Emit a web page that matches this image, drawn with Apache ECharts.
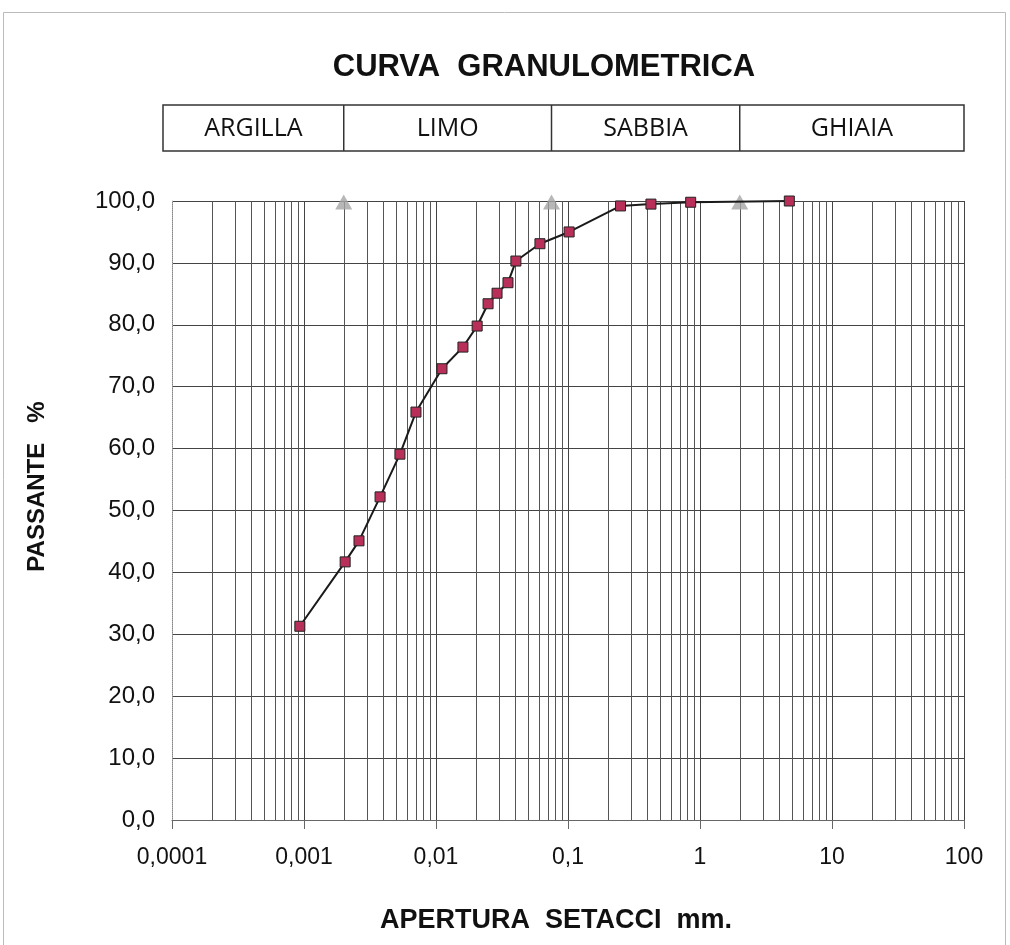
<!DOCTYPE html>
<html>
<head>
<meta charset="utf-8">
<script src="https://cdn.jsdelivr.net/npm/echarts@6/dist/echarts.min.js"></script>
<style>
html,body{margin:0;padding:0;background:#fff;}
#c{width:1010px;height:945px;}
</style>
</head>
<body>
<div id="c"></div>
<script>
// ---- data ----
const sieveSizes = [0.00093, 0.00205, 0.00261, 0.00377, 0.00533, 0.00705, 0.0111, 0.0160, 0.0205, 0.0248, 0.0290, 0.0351, 0.0403, 0.0613, 0.102, 0.25, 0.425, 0.85, 4.75];
const passing    = [31.3, 41.7, 45.1, 52.2, 59.1, 65.9, 72.9, 76.4, 79.8, 83.4, 85.1, 86.8, 90.3, 93.1, 95.0, 99.2, 99.5, 99.8, 100.0];
const boundarySizes = [0.002, 0.075, 2];
const boundaryPassing = [100, 100, 100];
const fractionNames = ['ARGILLA', 'LIMO', 'SABBIA', 'GHIAIA'];
const xMajorTicks = [0.0001, 0.001, 0.01, 0.1, 1, 10, 100];
const yTicks = [0, 10, 20, 30, 40, 50, 60, 70, 80, 90, 100];
const minorFactors = [2, 3, 4, 5, 6, 7, 8, 9];

const minorValues = [];
for (let i = 0; i < xMajorTicks.length - 1; i++) {
  minorFactors.forEach(f => minorValues.push(+(xMajorTicks[i] * f).toPrecision(6)));
}

const chart = echarts.init(document.getElementById('c'), null, { renderer: 'canvas' });
const fmt = v => String(v).replace('.', ',');

const option = {
  backgroundColor: '#fff',
  animation: false,
  title: {
    text: 'CURVA  GRANULOMETRICA',
    left: 539, top: 47, textAlign: 'center',
    textStyle: { fontFamily: 'Liberation Sans', fontWeight: 'bold', fontSize: 31, color: '#111' }
  },
  grid: { left: 172, right: 46, top: 201, bottom: 125 },
  xAxis: {
    type: 'log', logBase: 10, min: xMajorTicks[0], max: xMajorTicks[xMajorTicks.length - 1],
    name: 'APERTURA  SETACCI  mm.', nameLocation: 'middle', nameGap: 87,
    nameTextStyle: { fontFamily: 'Liberation Sans', fontWeight: 'bold', fontSize: 27, color: '#111', padding: [0, 24, 0, 0] },
    axisLine: { show: true, lineStyle: { color: '#666', width: 1 } },
    axisTick: { show: true, inside: false, length: 9, lineStyle: { color: '#666' } },
    axisLabel: { formatter: fmt, fontFamily: 'Liberation Sans', fontSize: 23, color: '#111', margin: 26 },
    splitLine: { show: true, lineStyle: { color: '#444', width: 1 } }
  },
  yAxis: {
    type: 'value', min: 0, max: 100, interval: 10,
    name: 'PASSANTE   %', nameLocation: 'middle', nameGap: 123, nameRotate: 90,
    nameTextStyle: { fontFamily: 'Liberation Sans', fontWeight: 'bold', fontSize: 24, color: '#111', padding: [0, 0, 0, 48] },
    axisLine: { show: true, lineStyle: { color: '#aaa', width: 1, type: 'dotted' } },
    axisTick: { show: false },
    axisLabel: { formatter: v => v.toFixed(1).replace('.', ','), fontFamily: 'Liberation Sans', fontSize: 24, color: '#111', margin: 17 },
    splitLine: { show: true, lineStyle: { color: '#444', width: 1 } }
  },
  series: [
    {
      type: 'custom',
      silent: true,
      data: minorValues,
      encode: { x: 0 },
      clip: true,
      z: 1,
      renderItem: function (params, api) {
        const v = api.value(0);
        const top = api.coord([v, 100]);
        const bot = api.coord([v, 0]);
        return {
          type: 'line',
          shape: { x1: Math.round(top[0]) + 0.5, y1: top[1], x2: Math.round(bot[0]) + 0.5, y2: bot[1] },
          style: { stroke: '#555', lineWidth: 1 }
        };
      }
    },
    {
      type: 'scatter',
      data: boundarySizes.map((x, i) => [x, boundaryPassing[i]]),
      symbol: 'triangle', symbolSize: [17, 15], symbolOffset: [0, 1],
      itemStyle: { color: '#a5a5a5' },
      clip: false, z: 3
    },
    {
      type: 'line',
      data: sieveSizes.map((x, i) => [x, passing[i]]),
      symbol: 'rect', symbolSize: 10,
      showAllSymbol: true,
      lineStyle: { color: '#1a1a1a', width: 2 },
      itemStyle: { color: '#b8305a', borderColor: '#222', borderWidth: 1 },
      clip: false, z: 5
    }
  ]
};
chart.setOption(option);

// classification header table aligned to boundary sizes
const tableTop = 105, tableH = 46, tableLeft = 163;
const xRight = chart.convertToPixel({ xAxisIndex: 0 }, xMajorTicks[xMajorTicks.length - 1]);
const edges = [tableLeft].concat(boundarySizes.map(v => chart.convertToPixel({ xAxisIndex: 0 }, v)), [xRight]);
const g = [];
g.push({ type: 'rect', shape: { x: 3.5, y: 12.5, width: 1002, height: 940 }, style: { fill: 'none', stroke: '#bbb', lineWidth: 1 }, silent: true });
g.push({ type: 'rect', shape: { x: edges[0], y: tableTop, width: edges[edges.length - 1] - edges[0], height: tableH }, style: { fill: '#fff', stroke: '#333', lineWidth: 1.5 } });
for (let i = 1; i < edges.length - 1; i++) {
  g.push({ type: 'line', shape: { x1: edges[i], y1: tableTop, x2: edges[i], y2: tableTop + tableH }, style: { stroke: '#333', lineWidth: 1.5 } });
}
fractionNames.forEach((n, i) => {
  g.push({ type: 'text', x: (edges[i] + edges[i + 1]) / 2, y: tableTop + tableH / 2 + 1,
    style: { text: n, fontFamily: "'Liberation Sans Narrow', 'Open Sans', sans-serif", fontSize: 25, fill: '#111', align: 'center', verticalAlign: 'middle' } });
});
chart.setOption({ graphic: g });
</script>
</body>
</html>
